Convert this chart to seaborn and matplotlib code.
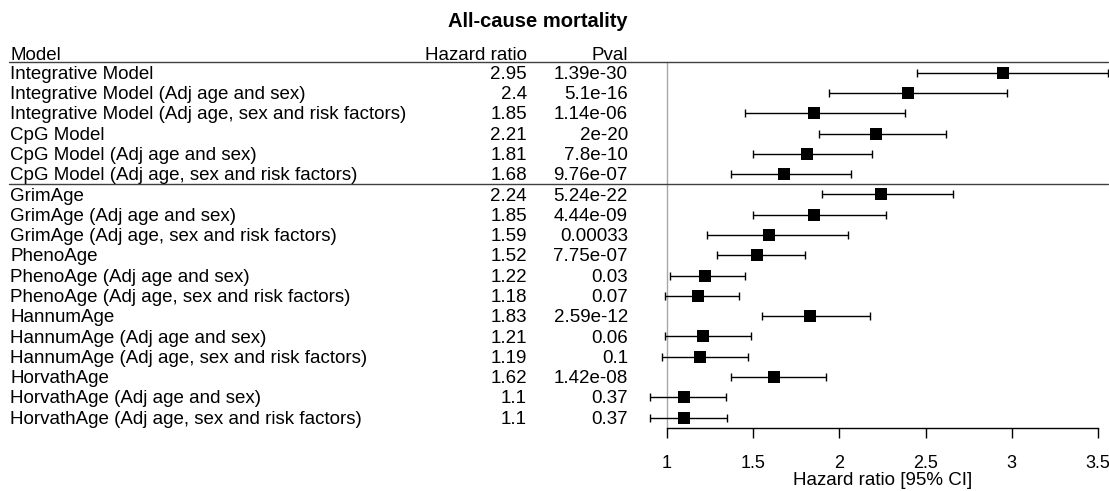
import matplotlib
matplotlib.use("Agg")
import matplotlib.pyplot as plt
import matplotlib.transforms as mtransforms
import pandas as pd
import seaborn as sns

# ---- data ---------------------------------------------------------------
models = [
    "Integrative Model",
    "Integrative Model (Adj age and sex)",
    "Integrative Model (Adj age, sex and risk factors)",
    "CpG Model",
    "CpG Model (Adj age and sex)",
    "CpG Model (Adj age, sex and risk factors)",
    "GrimAge",
    "GrimAge (Adj age and sex)",
    "GrimAge (Adj age, sex and risk factors)",
    "PhenoAge",
    "PhenoAge (Adj age and sex)",
    "PhenoAge (Adj age, sex and risk factors)",
    "HannumAge",
    "HannumAge (Adj age and sex)",
    "HannumAge (Adj age, sex and risk factors)",
    "HorvathAge",
    "HorvathAge (Adj age and sex)",
    "HorvathAge (Adj age, sex and risk factors)",
]
hazard_ratio = [2.95, 2.4, 1.85, 2.21, 1.81, 1.68, 2.24, 1.85, 1.59,
                1.52, 1.22, 1.18, 1.83, 1.21, 1.19, 1.62, 1.1, 1.1]
ci_lower = [2.45, 1.94, 1.45, 1.88, 1.50, 1.37, 1.90, 1.50, 1.23,
            1.29, 1.02, 0.99, 1.55, 0.99, 0.97, 1.37, 0.90, 0.90]
ci_upper = [3.56, 2.97, 2.38, 2.62, 2.19, 2.07, 2.66, 2.27, 2.05,
            1.80, 1.45, 1.42, 2.18, 1.49, 1.47, 1.92, 1.34, 1.35]
pvals = ["1.39e-30", "5.1e-16", "1.14e-06", "2e-20", "7.8e-10", "9.76e-07",
         "5.24e-22", "4.44e-09", "0.00033", "7.75e-07", "0.03", "0.07",
         "2.59e-12", "0.06", "0.1", "1.42e-08", "0.37", "0.37"]
x_ticks = [1, 1.5, 2, 2.5, 3, 3.5]
x_tick_labels = ["1", "1.5", "2", "2.5", "3", "3.5"]

df = pd.DataFrame({
    "model": models,
    "hr": hazard_ratio,
    "lo": ci_lower,
    "hi": ci_upper,
    "p": pvals,
})
df["row"] = range(len(df))

# ---- style --------------------------------------------------------------
sns.set_style("white")
plt.rcParams["font.family"] = ["Liberation Sans", "DejaVu Sans"]
plt.rcParams["text.color"] = "black"
plt.rcParams["xtick.color"] = "black"
plt.rcParams["xtick.labelcolor"] = "black"
FS = 13.5

W, H = 1109, 491
fig = plt.figure(figsize=(W / 100, H / 100), dpi=100)
ax = fig.add_axes([0, 0, 1, 1])

# pixel <-> data layout of the forest panel
X0_PX, X_UNIT_PX = 667, 172.4          # HR = 1 position and px per unit
Y0_PX, ROW_PX = 72.7, 20.29            # first row centre and row pitch
xlim = (1 - X0_PX / X_UNIT_PX, 1 + (W - X0_PX) / X_UNIT_PX)
ylim = ((H - Y0_PX) / ROW_PX, -Y0_PX / ROW_PX)


def fx(px):
    return px / W


header_row = -0.53
group_rule = 5.5
axis_row = 17.49
text_dy = 0.08          # small downward nudge so glyphs sit centred on rows

# confidence intervals and point estimates
ax.errorbar(df["hr"], df["row"],
            xerr=[df["hr"] - df["lo"], df["hi"] - df["hr"]],
            fmt="none", ecolor="black", elinewidth=1.0,
            capsize=3.2, capthick=1.0, zorder=2)
sns.scatterplot(data=df, x="hr", y="row", marker="s", s=72,
                color="black", edgecolor="black", linewidth=0,
                legend=False, ax=ax, zorder=3)

# reference line at HR = 1
ax.plot([1, 1], [header_row, axis_row], color="#a8a8a8", lw=1.0, zorder=1)

# horizontal rules spanning the table
blend = mtransforms.blended_transform_factory(fig.transFigure, ax.transData)
for r in (header_row, group_rule):
    ax.plot([fx(9), fx(1108)], [r, r], color="#404040", lw=1.0,
            transform=blend, clip_on=False, zorder=1)

# table text
for _, row in df.iterrows():
    y = row["row"] + text_dy
    ax.text(fx(10), y, row["model"], transform=blend,
            ha="left", va="center", fontsize=FS)
    ax.text(fx(527), y, f"{row['hr']:g}", transform=blend,
            ha="right", va="center", fontsize=FS)
    ax.text(fx(628), y, row["p"], transform=blend,
            ha="right", va="center", fontsize=FS)

hdr_y = header_row - 0.4 + text_dy
ax.text(fx(10), hdr_y, "Model", transform=blend, ha="left", va="center", fontsize=FS)
ax.text(fx(527), hdr_y, "Hazard ratio", transform=blend, ha="right", va="center", fontsize=FS)
ax.text(fx(628), hdr_y, "Pval", transform=blend, ha="right", va="center", fontsize=FS)

ax.text(fx(538), -2.6 + text_dy, "All-cause mortality", transform=blend,
        ha="center", va="center", fontsize=14.5, fontweight="bold")

# x axis of the forest panel
ax.set_xlim(*xlim)
ax.set_ylim(*ylim)
for side in ("top", "left", "right"):
    ax.spines[side].set_visible(False)
ax.spines["bottom"].set_position(("data", axis_row))
ax.spines["bottom"].set_bounds(1, 3.5)
ax.spines["bottom"].set_color("black")
ax.spines["bottom"].set_linewidth(1.0)
ax.set_xticks(x_ticks)
ax.set_xticklabels(x_tick_labels, fontsize=13)
ax.set_yticks([])
ax.tick_params(axis="x", direction="out", length=7, width=1.0,
               color="black", pad=12.5, bottom=True)
ax.set_xlabel("")
ax.set_ylabel("")
ax.text(2.25, 20.12, "Hazard ratio [95% CI]", ha="center", va="center",
        fontsize=FS)

fig.savefig("out.png", dpi=100)
